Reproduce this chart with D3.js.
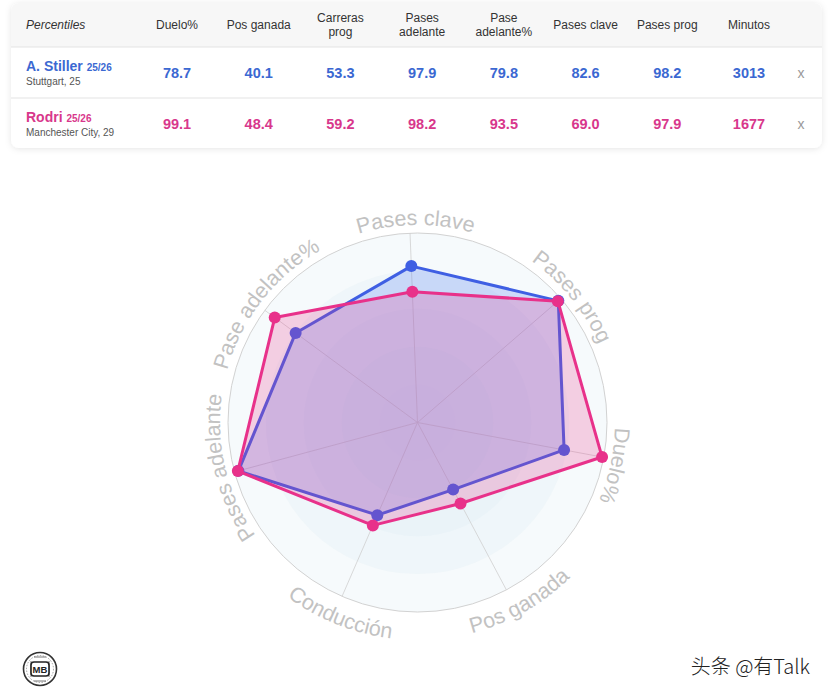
<!DOCTYPE html>
<html>
<head>
<meta charset="utf-8">
<script src="https://cdn.jsdelivr.net/npm/d3@7"></script>
<style>
  body { margin: 0; background: #fff; }
  svg { display: block; font-family: "Liberation Sans", Arial, sans-serif; }
</style>
</head>
<body>
<div id="chart"></div>
<script>
// table columns (header lines) and values
const COLUMNS = [['Duelo%'], ['Pos ganada'], ['Carreras', 'prog'], ['Pases', 'adelante'],
  ['Pase', 'adelante%'], ['Pases clave'], ['Pases prog'], ['Minutos']]
const STILLER = [78.7, 40.1, 53.3, 97.9, 79.8, 82.6, 98.2, 3013]
const RODRI = [99.1, 48.4, 59.2, 98.2, 93.5, 69.0, 97.9, 1677]

// radar axes (same order as the first 7 table columns)
const AXES = ['Duelo%', 'Pos ganada', 'Conducción', 'Pases adelante', 'Pase adelante%', 'Pases clave', 'Pases prog']
const STILLER_RADAR = [78.7, 40.1, 53.3, 97.9, 79.8, 82.6, 98.2]
const RODRI_RADAR = [99.1, 48.4, 59.2, 98.2, 93.5, 69.0, 97.9]

const PLAYERS = [
  { name: 'A. Stiller', season: '25/26', club: 'Stuttgart, 25', row: STILLER, radar: STILLER_RADAR,
    color: '#3f5fe3', text: '#3b68d2', fill: 'rgba(64,110,240,0.22)' },
  { name: 'Rodri', season: '25/26', club: 'Manchester City, 29', row: RODRI, radar: RODRI_RADAR,
    color: '#e8318a', text: '#d8378c', fill: 'rgba(232,49,138,0.22)' }
]

const WIDTH = 830
const HEIGHT = 696

const svg = d3.select('#chart').append('svg')
  .attr('width', WIDTH)
  .attr('height', HEIGHT)

const defs = svg.append('defs')
const shadow = defs.append('filter').attr('id', 'shadow')
  .attr('x', '-5%').attr('y', '-10%').attr('width', '110%').attr('height', '130%')
shadow.append('feDropShadow')
  .attr('dx', 0).attr('dy', 1).attr('stdDeviation', 3)
  .attr('flood-color', '#000').attr('flood-opacity', 0.1)

// ---------- table card ----------
const CARD = { x: 11, y: 3, w: 811, h: 145 }
defs.append('clipPath').attr('id', 'card-clip')
  .append('rect').attr('x', CARD.x).attr('y', CARD.y)
  .attr('width', CARD.w).attr('height', CARD.h).attr('rx', 8)

const table = svg.append('g')
table.append('rect')
  .attr('x', CARD.x).attr('y', CARD.y)
  .attr('width', CARD.w).attr('height', CARD.h).attr('rx', 8)
  .attr('fill', '#fff')
  .attr('filter', 'url(#shadow)')

table.append('rect')
  .attr('clip-path', 'url(#card-clip)')
  .attr('x', CARD.x).attr('y', CARD.y)
  .attr('width', CARD.w).attr('height', 44)
  .attr('fill', '#f7f7f7')

table.selectAll('.divider')
  .data([47, 98])
  .enter()
  .append('line')
  .attr('x1', CARD.x).attr('x2', CARD.x + CARD.w)
  .attr('y1', d => d).attr('y2', d => d)
  .attr('stroke', '#e3e3e3')

const colX = d3.scalePoint()
  .domain(d3.range(COLUMNS.length))
  .range([177, 749])

table.append('text')
  .attr('x', 26).attr('y', 29)
  .attr('font-size', 12)
  .attr('font-style', 'italic')
  .attr('fill', '#333')
  .text('Percentiles')

const headers = table.selectAll('.header')
  .data(COLUMNS)
  .enter()
  .append('text')
  .attr('text-anchor', 'middle')
  .attr('font-size', 12)
  .attr('fill', '#333')
  .attr('x', (d, i) => colX(i))
  .attr('y', d => d.length > 1 ? 22 : 29)

headers.selectAll('tspan')
  .data(d => d)
  .enter()
  .append('tspan')
  .attr('x', function () { return d3.select(this.parentNode).attr('x') })
  .attr('dy', (d, i) => i === 0 ? 0 : 13.5)
  .text(d => d)

PLAYERS.forEach((p, k) => {
  const base = 71 + k * 51
  const name = table.append('text')
    .attr('x', 26).attr('y', base)
    .attr('font-weight', 'bold')
    .attr('fill', p.text)
  name.append('tspan').attr('font-size', 14).text(p.name + ' ')
  name.append('tspan').attr('font-size', 10).text(p.season)

  table.append('text')
    .attr('x', 26).attr('y', base + 14)
    .attr('font-size', 10)
    .attr('fill', '#555')
    .text(p.club)

  table.selectAll('.val-' + k)
    .data(p.row)
    .enter()
    .append('text')
    .attr('x', (d, i) => colX(i))
    .attr('y', base + 7)
    .attr('text-anchor', 'middle')
    .attr('font-size', 14.5)
    .attr('font-weight', 'bold')
    .attr('fill', p.text)
    .text((d, i) => i === COLUMNS.length - 1 ? d : d.toFixed(1))

  table.append('text')
    .attr('x', 801).attr('y', base + 7)
    .attr('text-anchor', 'middle')
    .attr('font-size', 14)
    .attr('fill', '#999')
    .text('x')
})

// ---------- radar ----------
const CENTER = { x: 417.5, y: 422.5 }
const RADIUS = 189.5
const START = 100.6 * Math.PI / 180
const STEP = 2 * Math.PI / AXES.length

const r = d3.scaleLinear().domain([0, 100]).range([0, RADIUS])
const angle = i => START + i * STEP
const px = (v, i) => r(v) * Math.sin(angle(i))
const py = (v, i) => -r(v) * Math.cos(angle(i))

const radar = svg.append('g')
  .attr('transform', `translate(${CENTER.x}, ${CENTER.y})`)

// soft background rings
radar.selectAll('.ring')
  .data([100, 80, 60, 40, 20])
  .enter()
  .append('circle')
  .attr('r', d => r(d))
  .attr('fill', '#dcebf5')
  .attr('fill-opacity', 0.25)

radar.append('circle')
  .attr('r', RADIUS)
  .attr('fill', 'none')
  .attr('stroke', '#d2d2d2')

radar.selectAll('.axis')
  .data(AXES)
  .enter()
  .append('line')
  .attr('x1', 0).attr('y1', 0)
  .attr('x2', (d, i) => px(100, i))
  .attr('y2', (d, i) => py(100, i))
  .attr('stroke', '#cfcfcf')
  .attr('stroke-width', 0.8)

const line = d3.lineRadial()
  .angle((d, i) => angle(i))
  .radius(d => r(d))
  .curve(d3.curveLinearClosed)

PLAYERS.forEach((p, k) => {
  const g = radar.append('g')
  g.append('path')
    .attr('d', line(p.radar))
    .attr('fill', p.fill)
    .attr('stroke', p.color)
    .attr('stroke-width', 3)
    .attr('stroke-linejoin', 'round')

  g.selectAll('.dot-' + k)
    .data(p.radar)
    .enter()
    .append('circle')
    .attr('cx', (d, i) => px(d, i))
    .attr('cy', (d, i) => py(d, i))
    .attr('r', 6)
    .attr('fill', p.color)
})

// curved axis labels
const arcPath = (rad, a0, a1, sweep) => {
  const x0 = rad * Math.sin(a0), y0 = -rad * Math.cos(a0)
  const x1 = rad * Math.sin(a1), y1 = -rad * Math.cos(a1)
  return `M ${x0} ${y0} A ${rad} ${rad} 0 0 ${sweep} ${x1} ${y1}`
}
const SPAN = 80 * Math.PI / 180

AXES.forEach((label, i) => {
  const a = angle(i)
  const deg = ((a * 180 / Math.PI) % 360 + 360) % 360
  const flip = deg > 110 && deg < 250
  const d = flip
    ? arcPath(RADIUS + 28, a + SPAN, a - SPAN, 0)
    : arcPath(RADIUS + 8, a - SPAN, a + SPAN, 1)

  defs.append('path').attr('id', `label-arc-${i}`).attr('d', d)
    .attr('transform', `translate(${CENTER.x}, ${CENTER.y})`)

  svg.append('text')
    .attr('font-size', 21.5)
    .attr('fill', '#c2c2c2')
    .attr('dx', 6)
    .append('textPath')
    .attr('href', `#label-arc-${i}`)
    .attr('startOffset', '50%')
    .attr('text-anchor', 'middle')
    .text(label)
})

// ---------- logo + watermark ----------
const logo = svg.append('g').attr('transform', 'translate(40, 669)')
logo.append('circle').attr('r', 16.5).attr('fill', '#fff')
  .attr('stroke', '#333').attr('stroke-width', 1.6)
logo.append('circle').attr('r', 13.5).attr('fill', 'none')
  .attr('stroke', '#888').attr('stroke-width', 0.8).attr('stroke-dasharray', '1.5 1.5')
logo.selectAll('.seam')
  .data([[-9, -8, -9, 8], [9, -8, 9, 8], [-6, -12, 6, -12], [-6, 12, 6, 12]])
  .enter()
  .append('line')
  .attr('x1', d => d[0]).attr('y1', d => d[1])
  .attr('x2', d => d[2]).attr('y2', d => d[3])
  .attr('stroke', '#555').attr('stroke-width', 0.8)
logo.append('rect')
  .attr('x', -9).attr('y', -7).attr('width', 18).attr('height', 14).attr('rx', 3)
  .attr('fill', '#fff').attr('stroke', '#222').attr('stroke-width', 1.6)
logo.append('text')
  .attr('text-anchor', 'middle').attr('y', 3.6)
  .attr('font-size', 9.5).attr('font-weight', 'bold').attr('fill', '#222')
  .text('MB')

svg.append('text')
  .attr('x', 810).attr('y', 674)
  .attr('text-anchor', 'end')
  .attr('font-family', '"Noto Sans CJK SC", "Liberation Sans", sans-serif')
  .attr('font-size', 20)
  .attr('font-weight', 300)
  .attr('fill', '#222')
  .text('头条 @有Talk')
</script>
</body>
</html>
